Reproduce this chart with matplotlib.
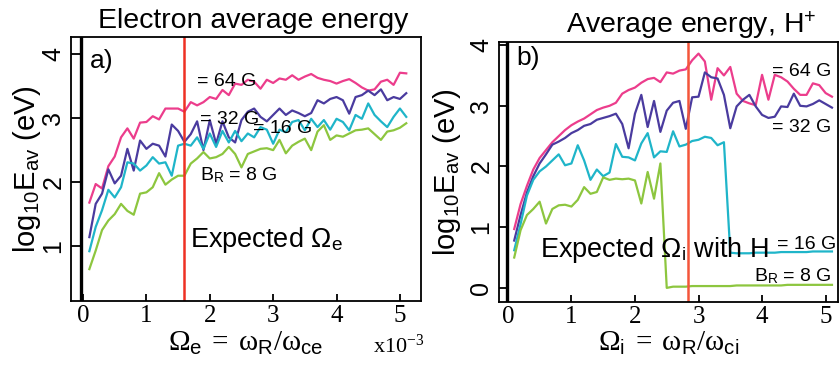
import matplotlib
matplotlib.use("Agg")
import matplotlib.pyplot as plt
import numpy as np

plt.rcParams["font.family"] = ["Liberation Sans", "DejaVu Sans"]
plt.rcParams["mathtext.fontset"] = "custom"
plt.rcParams["mathtext.rm"] = "Liberation Serif"
plt.rcParams["mathtext.it"] = "Liberation Serif:italic"
plt.rcParams["mathtext.sf"] = "Liberation Sans"

# ---- data: log10 of average energy (eV) vs normalised frequency ----
omega = np.round(np.arange(0.1, 5.15, 0.1), 1)  # 0.1 .. 5.1

# a) electrons
e_64 = [1.68, 1.97, 1.90, 2.25, 2.40, 2.70, 2.84, 2.68, 2.93, 2.94,
        3.03, 2.98, 3.15, 3.15, 3.15, 3.10, 3.25, 3.20, 3.25, 3.33,
        3.30, 3.44, 3.36, 3.54, 3.52, 3.60, 3.57, 3.46, 3.60, 3.55,
        3.62, 3.60, 3.67, 3.60, 3.65, 3.69, 3.63, 3.60, 3.58, 3.54,
        3.58, 3.61, 3.55, 3.48, 3.43, 3.45, 3.57, 3.60, 3.52, 3.71, 3.70]
e_32 = [1.14, 1.66, 1.82, 2.20, 1.98, 2.10, 2.52, 2.18, 2.65, 2.52,
        2.60, 2.57, 2.40, 2.90, 2.80, 2.63, 2.75, 2.95, 2.50, 2.97,
        2.60, 2.95, 2.70, 2.62, 2.97, 3.10, 3.15, 3.02, 2.95, 3.05,
        3.15, 3.05, 3.12, 3.08, 3.03, 3.08, 3.28, 3.23, 3.30, 3.33,
        3.28, 3.07, 3.33, 3.36, 3.43, 3.36, 3.45, 3.28, 3.33, 3.30, 3.39]
e_16 = [0.92, 1.30, 1.56, 1.88, 1.76, 1.92, 2.31, 2.29, 2.18, 2.26,
        2.39, 2.29, 2.31, 2.10, 2.57, 2.60, 2.57, 2.70, 2.52, 2.76,
        2.55, 2.80, 2.62, 2.80, 2.64, 2.76, 2.70, 2.86, 2.82, 2.60,
        2.82, 2.78, 2.94, 2.97, 2.81, 2.99, 2.86, 2.97, 2.82, 2.99,
        2.94, 2.81, 3.05, 2.99, 3.23, 3.05, 2.95, 2.86, 3.02, 3.15, 3.02]
e_8 = [0.64, 0.93, 1.25, 1.40, 1.50, 1.66, 1.55, 1.49, 1.82, 1.84,
       1.92, 2.14, 1.96, 2.04, 2.10, 2.10, 2.29, 2.37, 2.47, 2.37,
       2.39, 2.44, 2.55, 2.44, 2.23, 2.44, 2.48, 2.52, 2.53, 2.50,
       2.66, 2.45, 2.57, 2.63, 2.68, 2.50, 2.79, 2.89, 2.66, 2.73,
       2.71, 2.76, 2.81, 2.82, 2.84, 2.75, 2.66, 2.79, 2.81, 2.85, 2.92]

# b) protons (H+)
h_64 = [0.97, 1.38, 1.68, 1.95, 2.14, 2.27, 2.40, 2.50, 2.60, 2.68,
        2.74, 2.79, 2.86, 2.93, 2.97, 3.00, 3.05, 3.20, 3.26, 3.30,
        3.38, 3.44, 3.46, 3.39, 3.55, 3.53, 3.58, 3.60, 3.75, 3.86,
        3.73, 3.10, 3.62, 3.50, 3.64, 3.20, 3.08, 3.04, 3.01, 3.51,
        3.10, 3.51, 3.47, 3.40, 3.28, 3.18, 3.18, 3.37, 3.34, 3.21, 3.15]
h_32 = [0.78, 1.20, 1.57, 1.84, 2.05, 2.20, 2.36, 2.41, 2.47, 2.55,
        2.60, 2.67, 2.70, 2.77, 2.80, 2.83, 2.87, 2.70, 2.30, 2.87,
        3.18, 2.65, 3.08, 2.57, 2.92, 3.05, 3.08, 2.62, 3.14, 3.15,
        3.55, 3.47, 3.45, 3.18, 2.63, 2.99, 3.10, 3.18, 2.99, 2.85,
        2.80, 2.82, 2.99, 2.98, 3.20, 3.00, 2.99, 3.03, 3.09, 3.03, 2.97]
h_16 = [0.62, 1.05, 1.52, 1.78, 1.92, 2.00, 2.10, 2.20, 2.02, 2.05,
        2.35, 2.10, 1.78, 1.95, 1.84, 1.90, 2.37, 2.16, 2.15, 2.10,
        2.38, 2.55, 2.15, 2.25, 2.24, 2.58, 2.33, 2.36, 2.42, 2.44,
        2.49, 2.47, 2.35, 2.40, 0.58, 0.57, 0.57, 0.57, 0.58, 0.58,
        0.58, 0.58, 0.59, 0.59, 0.59, 0.59, 0.59, 0.60, 0.60, 0.60, 0.60]
h_8 = [0.50, 0.95, 1.20, 1.30, 1.42, 1.06, 1.30, 1.36, 1.37, 1.34,
       1.45, 1.66, 1.55, 1.58, 1.82, 1.78, 1.80, 1.79, 1.80, 1.77,
       1.39, 1.91, 1.47, 2.05, 0.00, 0.02, 0.02, 0.02, 0.03, 0.03,
       0.03, 0.03, 0.03, 0.03, 0.03, 0.04, 0.04, 0.04, 0.04, 0.04,
       0.04, 0.04, 0.04, 0.05, 0.05, 0.05, 0.05, 0.05, 0.05, 0.05, 0.05]

omega_e_expected = 1.6
omega_i_expected = 2.84

C64 = "#ec3d8c"
C32 = "#4a3b9f"
C16 = "#1fb5c9"
C8 = "#8dc63f"

fig = plt.figure(figsize=(8.4, 3.69), dpi=100)
axa = fig.add_axes([0.0845, 0.184, 0.4165, 0.716])
axb = fig.add_axes([0.594, 0.182, 0.404, 0.704])


def frame(ax, yt, xinner):
    for s in ax.spines.values():
        s.set_linewidth(1.3)
    ax.axvline(xinner, color="black", lw=2.4)
    ax.set_xticks(range(6))
    ax.set_xticklabels([str(i) for i in range(6)], family="Liberation Serif",
                       fontsize=18)
    ax.set_yticks(yt)
    ax.set_yticklabels([str(i) for i in yt], rotation=90, va="center",
                       fontsize=18)
    ax.tick_params(axis="x", direction="in", length=5, width=1.3, pad=3)
    ax.tick_params(axis="y", direction="in", length=7, width=1.3, pad=4)
    ax.set_ylabel(r"log$_{\mathsf{10}}$E$_{\mathsf{av}}$ (eV)", fontsize=21)


XLAB = (r"$\Omega_{\mathsf{%s}}\;=\;\mathrm{\omega}_{\mathsf{R}}"
        r"/\mathrm{\omega}_{\mathsf{c%s}}$")

# ---- panel a ----
ax = axa
ax.plot(omega, e_64, color=C64, lw=1.6)
ax.plot(omega, e_32, color=C32, lw=1.6)
ax.plot(omega, e_16, color=C16, lw=1.6)
ax.plot(omega, e_8, color=C8, lw=1.6)
ax.axvline(omega_e_expected, color="#ee3124", lw=1.8)
ax.set_xlim(-0.19, 5.33)
ax.set_ylim(0.14, 4.27)
frame(ax, [1, 2, 3, 4], -0.03)
ax.yaxis.set_label_coords(-0.08, 0.5)
ax.set_xlabel(XLAB % ("e", "e"), fontsize=21, labelpad=1)
ax.text(0.11, 3.9, "a)", fontsize=19, va="center")
ax.text(1.80, 3.58, "= 64 G", fontsize=14, va="center")
ax.text(1.85, 2.98, "= 32 G", fontsize=14, va="center")
ax.text(2.68, 2.84, "= 16 G", fontsize=14, va="center")
ax.text(1.85, 2.11, r"B$_{\mathsf{R}}$ = 8 G", fontsize=14, va="center")
ax.text(1.69, 1.09, r"Expected Ω$_{\mathsf{e}}$", fontsize=19.5, va="center")
fig.text(0.444, 0.045, r"x10$^{-3}$", family="Liberation Serif", fontsize=16)

# ---- panel b ----
ax = axb
ax.plot(omega, h_64, color=C64, lw=1.6)
ax.plot(omega, h_32, color=C32, lw=1.6)
ax.plot(omega, h_16, color=C16, lw=1.6)
ax.plot(omega, h_8, color=C8, lw=1.6)
ax.axvline(omega_i_expected, color="#f4553a", lw=1.8)
ax.set_xlim(-0.14, 5.2)
ax.set_ylim(-0.23, 4.05)
frame(ax, [0, 1, 2, 3, 4], -0.02)
ax.yaxis.set_label_coords(-0.105, 0.5)
ax.set_xlabel(XLAB % ("i", "i"), fontsize=21, labelpad=1)
ax.text(0.14, 3.79, "b)", fontsize=19, va="center")
ax.text(4.15, 3.57, "= 64 G", fontsize=14, va="center")
ax.text(4.15, 2.65, "= 32 G", fontsize=14, va="center")
ax.text(4.23, 0.71, "= 16 G", fontsize=14, va="center")
ax.text(3.87, 0.20, r"B$_{\mathsf{R}}$ = 8 G", fontsize=14, va="center")
ax.text(0.50, 0.63, r"Expected Ω$_{\mathsf{i}}$ with H", fontsize=19.5,
        va="center")

fig.text(0.302, 0.924, "Electron average energy", fontsize=20.5, ha="center",
         va="baseline")
fig.text(0.823, 0.913, r"Average energy, H$^{\mathsf{+}}$", fontsize=20.5,
         ha="center", va="baseline")

fig.savefig("out.png", dpi=100)
